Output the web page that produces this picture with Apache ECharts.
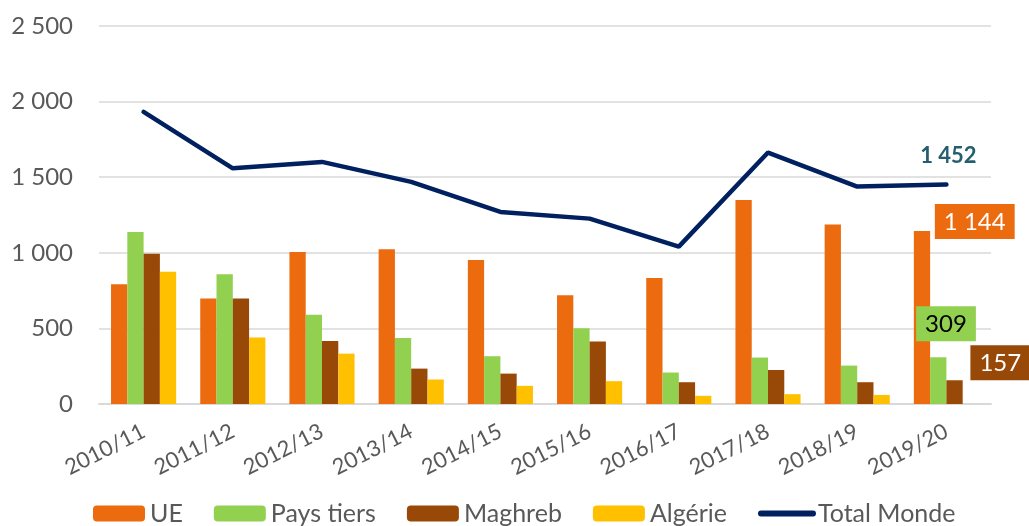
<!DOCTYPE html>
<html>
<head>
<meta charset="utf-8">
<script src="https://cdn.jsdelivr.net/npm/echarts@6/dist/echarts.min.js"></script>
<style>
  html, body { margin: 0; padding: 0; background: #fff; }
  #main { width: 1029px; height: 526px; }
</style>
</head>
<body>
<div id="main"></div>
<script>
const categories = ["2010/11", "2011/12", "2012/13", "2013/14", "2014/15", "2015/16", "2016/17", "2017/18", "2018/19", "2019/20"];
const ue = [792, 697, 1006, 1023, 953, 719, 834, 1350, 1187, 1144];
const paysTiers = [1138, 858, 591, 437, 316, 501, 208, 307, 254, 309];
const maghreb = [993, 697, 417, 234, 201, 413, 144, 225, 144, 157];
const algerie = [874, 439, 333, 162, 120, 151, 54, 65, 60, null];
const totalMonde = [1932, 1559, 1601, 1469, 1270, 1226, 1041, 1663, 1438, 1452];

const font = "Lato";
const fmt = v => String(v).replace(/\B(?=(\d{3})+(?!\d))/g, " ");

// only the last point gets a label
const lastLabel = (arr, label) => arr.map((v, i) => i === arr.length - 1 ? { value: v, label: label } : v);

const boxLabel = (bg, color, pos) => ({
  show: true,
  position: pos,
  backgroundColor: bg,
  color: color,
  fontFamily: font,
  fontSize: 24,
  padding: [6, 9, 5, 9],
  formatter: p => fmt(p.value)
});

const chart = echarts.init(document.getElementById("main"));
chart.setOption({
  animation: false,
  grid: { left: 99, right: 38, top: 26, bottom: 122 },
  legend: {
    bottom: -5,
    left: 88,
    itemWidth: 52,
    itemHeight: 16,
    itemGap: 31,
    textStyle: { fontFamily: font, fontSize: 25, color: "#595959" },
    data: ["UE", "Pays tiers", "Maghreb", "Algérie",
      { name: "Total Monde", itemStyle: { opacity: 0 }, lineStyle: { width: 6 } }]
  },
  xAxis: {
    type: "category",
    data: categories,
    axisLine: { lineStyle: { color: "#D9D9D9", width: 2 } },
    axisTick: { show: false },
    axisLabel: { rotate: 27, margin: 26, fontFamily: font, fontSize: 22, color: "#595959" }
  },
  yAxis: {
    type: "value",
    min: 0,
    max: 2500,
    interval: 500,
    axisLine: { show: false },
    axisTick: { show: false },
    splitLine: { lineStyle: { color: "#D9D9D9", width: 1.5 } },
    axisLabel: { margin: 26, fontFamily: font, fontSize: 24, color: "#595959", formatter: fmt }
  },
  series: [
    {
      name: "UE", type: "bar", barGap: "0%", barCategoryGap: "27%",
      itemStyle: { color: "#EC6B0E" },
      data: lastLabel(ue, boxLabel("#EC6B0E", "#fff", [21, -27]))
    },
    {
      name: "Pays tiers", type: "bar",
      itemStyle: { color: "#92D050" },
      data: lastLabel(paysTiers, boxLabel("#92D050", "#000", [-14, -51]))
    },
    {
      name: "Maghreb", type: "bar",
      itemStyle: { color: "#984807" },
      data: lastLabel(maghreb, boxLabel("#984807", "#fff", [24, -35]))
    },
    {
      name: "Algérie", type: "bar",
      itemStyle: { color: "#FFC000" },
      data: algerie
    },
    {
      name: "Total Monde", type: "line",
      symbol: "none",
      lineStyle: { color: "#002060", width: 4.5, cap: "round" },
      itemStyle: { color: "#002060" },
      endLabel: {
        show: true,
        align: "center",
        verticalAlign: "bottom",
        offset: [-6, -18],
        color: "#255E6E", fontFamily: font, fontSize: 22, fontWeight: "bold",
        formatter: p => fmt(p.value)
      },
      data: totalMonde
    }
  ]
});
</script>
</body>
</html>
